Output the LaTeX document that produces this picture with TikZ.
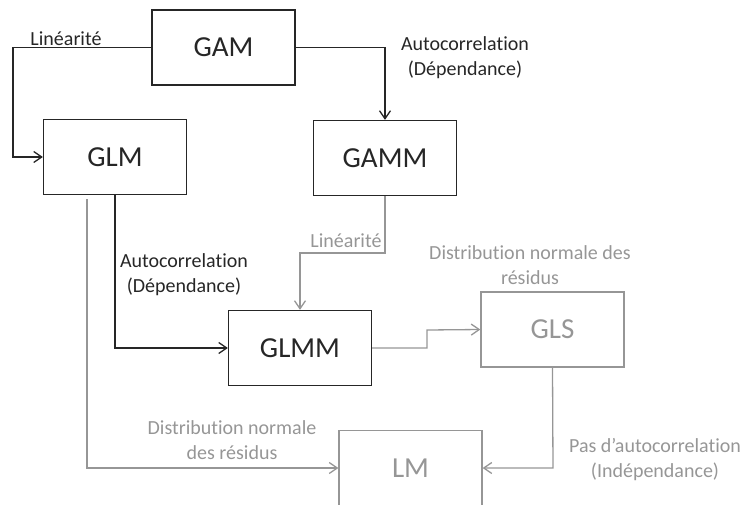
\documentclass[tikz,border=0pt]{standalone}
\usepackage{fontspec}
\setmainfont{Carlito}[Ligatures=NoCommon]
\usetikzlibrary{arrows.meta}

\definecolor{fonce}{RGB}{38,38,38}
\definecolor{clair}{RGB}{150,150,150}

\begin{document}
\begin{tikzpicture}[x=1pt,y=-1pt,
    box/.style={draw=fonce,text=fonce,line width=1.3pt,minimum width=143pt,minimum height=75pt,inner sep=0pt,font=\fontsize{29}{34}\selectfont},
    gbox/.style={box,draw=clair,text=clair},
    lbl/.style={align=center,inner sep=0pt,text=fonce,font=\fontsize{20}{25}\selectfont},
    glbl/.style={lbl,text=clair},
    fleche/.style={draw=fonce,line width=1.3pt,-{Straight Barb[length=8pt,width=11pt]}},
    gfleche/.style={fleche,draw=clair}]
        \useasboundingbox (0,0) rectangle (745,504);
        \clip (0,0) rectangle (745,504);

        \node[box] (GAM) at (223.5,47.5) {GAM};
        \node[box] (GLM) at (115,157) {GLM};
        \node[box] (GAMM) at (385,158) {GAMM};
        \node[box] (GLMM) at (300,348) {GLMM};
        \node[gbox] (GLS) at (552.5,329.5) {GLS};
        \node[gbox] (LM) at (410.5,468) {LM};

        \coordinate (c1) at (13,47.5);   % gauche
        \coordinate (c2) at (385,47.5);  % droite
        \coordinate (c3) at (115,348);
        \coordinate (c4) at (87,199);    % depart gris
        \coordinate (c5) at (385,253);
        \coordinate (c6) at (300,253);
        \coordinate (c7) at (427,348);
        \coordinate (c8) at (427,330);
        \coordinate (c9) at (553,468);

        \draw[fleche] (GAM.west) -- (c1) |- (GLM.west);
        \draw[fleche] (GAM.east) -- (c2) -- (GAMM.north);
        \draw[fleche] (GLM.south) -- (c3) -- (GLMM.west);
        \draw[gfleche] (c4) |- (LM.west);
        \draw[gfleche] (GAMM.south) -- (c5) -- (c6) -- (GLMM.north);
        \draw[gfleche] (GLMM.east) -- (c7) -- (c8) -- (GLS.west);
        \draw[gfleche] (GLS.south) -- (c9) -- (LM.east);

        \node[lbl] (l1) at (66,39) {Linéarité};
        \node[lbl] (l2) at (465,57.5) {Autocorrelation\\(Dépendance)};
        \node[lbl] (l3) at (184,274.5) {Autocorrelation\\(Dépendance)};
        \node[glbl] (l4) at (346,241) {Linéarité};
        \node[glbl] (l5) at (530,265.5) {Distribution normale des\\résidus};
        \node[glbl] (l6) at (232,440.5) {Distribution normale\\des résidus};
        \node[glbl] (l7) at (655,460) {Pas d’autocorrelation\\(Indépendance)};

    \end{tikzpicture}
\end{document}
